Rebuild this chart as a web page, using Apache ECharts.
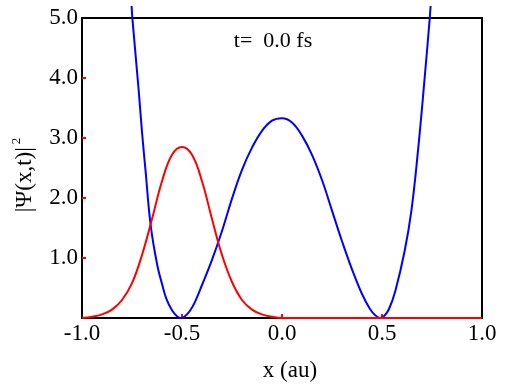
<!DOCTYPE html>
<html><head><meta charset="utf-8">
<script src="https://cdn.jsdelivr.net/npm/echarts@6/dist/echarts.min.js"></script>
<style>html,body{margin:0;padding:0;background:#fff}#c{width:510px;height:386px}</style>
</head><body><div id="c"></div>
<script>
const xTickLabels = [-1.0, -0.5, 0.0, 0.5, 1.0];
const yTickLabels = [1.0, 2.0, 3.0, 4.0, 5.0];
const xTickMarks = [-0.5, 0.0, 0.5];
const yTickMarks = [1.0, 2.0, 3.0, 4.0];

// potential (blue)
const potentialX = [-0.752, -0.748, -0.7165, -0.70, -0.683, -0.6565, -0.623, -0.60, -0.578, -0.55, -0.525, -0.505, -0.485, -0.46, -0.435, -0.40, -0.35, -0.30, -0.25, -0.20, -0.15, -0.10, -0.05, 0.00, 0.05, 0.10, 0.15, 0.20, 0.25, 0.30, 0.35, 0.40, 0.44, 0.465, 0.49, 0.51, 0.535, 0.567, 0.6135, 0.647, 0.68, 0.7135, 0.7385, 0.743];
const potentialY = [5.2, 4.99, 3.79, 3.10, 2.48, 1.54, 0.87, 0.57, 0.32, 0.13, 0.03, 0.0, 0.03, 0.12, 0.27, 0.55, 0.97, 1.45, 1.99, 2.47, 2.84, 3.12, 3.29, 3.33, 3.26, 3.04, 2.72, 2.30, 1.79, 1.28, 0.81, 0.40, 0.15, 0.05, 0.0, 0.03, 0.15, 0.455, 1.12, 1.79, 2.79, 4.01, 4.99, 5.2];

// probability density (red)
const densityX = [-1.00, -0.95, -0.90, -0.85, -0.80, -0.75, -0.70, -0.65, -0.60, -0.55, -0.50, -0.45, -0.40, -0.35, -0.30, -0.25, -0.20, -0.15, -0.10, -0.05, 0.00, 1.00];
const densityY = [0.00, 0.02, 0.06, 0.14, 0.30, 0.58, 1.05, 1.65, 2.28, 2.72, 2.85, 2.72, 2.28, 1.65, 1.05, 0.60, 0.30, 0.14, 0.06, 0.02, 0.00, 0.00];

const timeLabel = 't=  0.0 fs';
const xTitle = 'x (au)';
const yTitleMain = '|Ψ(x,t)|';
const yTitleSup = '2';

const FONT = 'Liberation Serif';
const zip = (a, b) => a.map((v, i) => [v, b[i]]);

const chart = echarts.init(document.getElementById('c'), null, {renderer: 'canvas'});
chart.setOption({
  animation: false,
  backgroundColor: '#fff',
  grid: {left: 82, right: 28, top: 18, bottom: 68, show: true, borderColor: '#000', borderWidth: 2, backgroundColor: 'transparent'},
  xAxis: {
    type: 'value', min: -1, max: 1, interval: 0.5,
    axisLine: {show: true, onZero: false, lineStyle: {color: '#000', width: 2}},
    axisTick: {show: true, inside: true, length: 4, customValues: xTickMarks, lineStyle: {color: '#ff0000', width: 2}},
    axisLabel: {customValues: xTickLabels, formatter: v => v.toFixed(1), color: '#000', fontFamily: FONT, fontSize: 23, margin: 4},
    splitLine: {show: false}
  },
  yAxis: {
    type: 'value', min: 0, max: 5, interval: 1,
    axisLine: {show: true, onZero: false, lineStyle: {color: '#000', width: 2}},
    axisTick: {show: true, inside: true, length: 4, customValues: yTickMarks, lineStyle: {color: '#ff0000', width: 2}},
    axisLabel: {customValues: yTickLabels, formatter: v => v.toFixed(1), color: '#000', fontFamily: FONT, fontSize: 23, margin: 4},
    splitLine: {show: false}
  },
  series: [
    {type: 'line', data: zip(potentialX, potentialY), showSymbol: false, smooth: 0.4, clip: false,
     lineStyle: {color: '#0000ff', width: 2}, z: 3},
    {type: 'line', data: zip(densityX, densityY), showSymbol: false, smooth: 0.4, clip: false,
     lineStyle: {color: '#ff0000', width: 2}, z: 4}
  ],
  graphic: [
    {type: 'text', x: 273, y: 41, style: {text: timeLabel, fontFamily: FONT, fontSize: 22, fill: '#000', align: 'center', verticalAlign: 'middle'}},
    {type: 'text', x: 290, y: 371, style: {text: xTitle, fontFamily: FONT, fontSize: 23, fill: '#000', align: 'center', verticalAlign: 'middle'}},
    {type: 'text', x: 25, y: 175, rotation: Math.PI / 2, style: {
      text: '{m|' + yTitleMain + '}{s|' + yTitleSup + '}', fontFamily: FONT, fill: '#000', align: 'center', verticalAlign: 'middle',
      rich: {
        m: {fontFamily: FONT, fontSize: 23, fill: '#000', lineHeight: 30},
        s: {fontFamily: FONT, fontSize: 13, fill: '#000', verticalAlign: 'top', padding: [0, 0, 0, 3]}
      }
    }}
  ]
});
</script></body></html>
